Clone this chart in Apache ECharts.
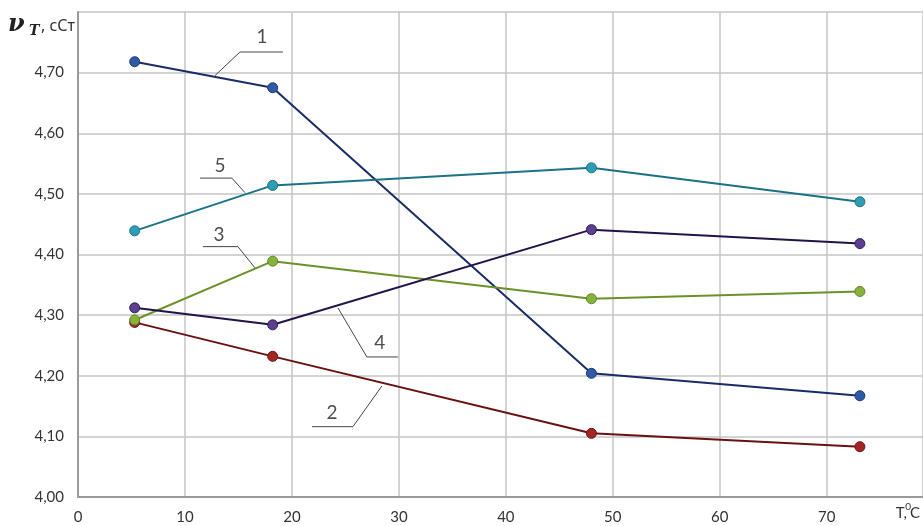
<!DOCTYPE html>
<html>
<head>
<meta charset="utf-8">
<script src="https://cdn.jsdelivr.net/npm/echarts@6/dist/echarts.min.js"></script>
<style>
  html, body { margin: 0; padding: 0; background: #fff; }
  #chart { width: 923px; height: 526px; }
</style>
</head>
<body>
<div id="chart"></div>
<script>
// Temperature points, °C
const temps = [5.3, 18.2, 48.0, 73.1];

// Kinematic viscosity, cSt, per sample
const visc1 = [4.718, 4.675, 4.204, 4.167];
const visc2 = [4.288, 4.232, 4.105, 4.083];
const visc3 = [4.292, 4.389, 4.327, 4.339];
const visc4 = [4.312, 4.284, 4.441, 4.418];
const visc5 = [4.439, 4.514, 4.543, 4.487];

const xTicks = [0, 10, 20, 30, 40, 50, 60, 70];
const yTicks = [4.0, 4.1, 4.2, 4.3, 4.4, 4.5, 4.6, 4.7];

// Callout labels: text anchor and leader polyline, in axis units
const calloutNames = ['1', '2', '3', '4', '5'];
const calloutText = [[17.2, 4.759], [23.74, 4.139], [13.18, 4.432], [28.22, 4.254], [13.27, 4.546]];
const calloutLeaders = [
  [[19.16, 4.734], [15.14, 4.734], [12.80, 4.695]],
  [[21.87, 4.116], [25.70, 4.116], [28.41, 4.183]],
  [[11.68, 4.413], [14.95, 4.413], [16.54, 4.378]],
  [[29.91, 4.231], [27.01, 4.231], [24.30, 4.312]],
  [[11.40, 4.526], [14.39, 4.526], [15.61, 4.502]]
];

const seriesDefs = [
  { values: visc1, line: '#1a2c68', fill: '#2f5aa6', edge: '#1c3a78' },
  { values: visc2, line: '#6a1010', fill: '#a32626', edge: '#6e1212' },
  { values: visc3, line: '#6a9228', fill: '#86b33c', edge: '#5e8424' },
  { values: visc4, line: '#22134a', fill: '#5c3f8e', edge: '#2e1c5c' },
  { values: visc5, line: '#1b7287', fill: '#2f9db3', edge: '#1b7287' }
];

const pair = (xs, ys) => xs.map((x, i) => [x, ys[i]]);
const FONT = 'Lato, "Open Sans", sans-serif';
const near = (list, v) => list.find(t => Math.abs(t - v) < 1e-6);

const series = seriesDefs.map(d => ({
  type: 'line',
  data: pair(temps, d.values),
  symbol: 'circle',
  symbolSize: 10,
  lineStyle: { color: d.line, width: 2 },
  itemStyle: { color: d.fill, borderColor: d.edge, borderWidth: 1 },
  z: 3,
  silent: true
}));

calloutLeaders.forEach(pts => {
  series.push({
    type: 'line',
    data: pts,
    symbol: 'none',
    lineStyle: { color: '#444', width: 1 },
    z: 4,
    silent: true
  });
});

series.push({
  type: 'scatter',
  data: calloutText.map((p, i) => ({ value: p, name: calloutNames[i] })),
  symbolSize: 0,
  label: {
    show: true,
    position: 'inside',
    formatter: p => p.name,
    fontFamily: FONT,
    fontSize: 19,
    color: '#222'
  },
  z: 5,
  silent: true
});

const chart = echarts.init(document.getElementById('chart'), null, { renderer: 'canvas' });
chart.setOption({
  animation: false,
  backgroundColor: '#fff',
  grid: { left: 78, top: 12, bottom: 29, right: 0 },
  xAxis: {
    type: 'value',
    min: 0, max: 79, interval: 10,
    axisLine: { show: true, lineStyle: { color: '#9a9a9a', width: 2 } },
    axisTick: { show: false },
    splitLine: { show: true, lineStyle: { color: '#c4c4c4', width: 1.5 } },
    axisLabel: {
      fontFamily: FONT, fontSize: 15, color: '#333', margin: 13,
      showMaxLabel: false,
      formatter: v => {
        const hit = near(xTicks, v);
        return hit === undefined ? '' : String(hit);
      }
    }
  },
  yAxis: {
    type: 'value',
    min: 4.0, max: 4.8, interval: 0.1,
    axisLine: { show: true, lineStyle: { color: '#9a9a9a', width: 2 } },
    axisTick: { show: false },
    splitLine: { show: true, lineStyle: { color: '#c4c4c4', width: 1.5 } },
    axisLabel: {
      fontFamily: FONT, fontSize: 15, color: '#333', margin: 14,
      formatter: v => {
        const hit = near(yTicks, v);
        return hit === undefined ? '' : hit.toFixed(2).replace('.', ',');
      }
    }
  },
  graphic: [
    {
      type: 'text', left: 8, top: 13,
      style: {
        text: 'ν',
        fontFamily: '"DejaVu Serif", serif',
        fontStyle: 'italic',
        fontWeight: 'bold',
        fontSize: 24,
        fill: '#222'
      }
    },
    {
      type: 'text', left: 29, top: 24,
      style: {
        text: 'T',
        fontFamily: '"DejaVu Serif", serif',
        fontStyle: 'italic',
        fontWeight: 'bold',
        fontSize: 14,
        fill: '#222'
      }
    },
    {
      type: 'text', left: 41, top: 18,
      style: {
        text: ', сСт',
        fontFamily: '"Noto Sans", "Open Sans", sans-serif',
        fontSize: 16,
        fill: '#333'
      }
    },
    {
      type: 'text', right: 16, bottom: 5,
      style: {
        text: 'T,',
        fontFamily: FONT,
        fontSize: 15,
        fill: '#333'
      }
    },
    {
      type: 'text', right: 12, bottom: 14,
      style: {
        text: '0',
        fontFamily: FONT,
        fontSize: 10,
        fill: '#333'
      }
    },
    {
      type: 'text', right: 3, bottom: 5,
      style: {
        text: 'C',
        fontFamily: FONT,
        fontSize: 15,
        fill: '#333'
      }
    }
  ],
  series
});
</script>
</body>
</html>
